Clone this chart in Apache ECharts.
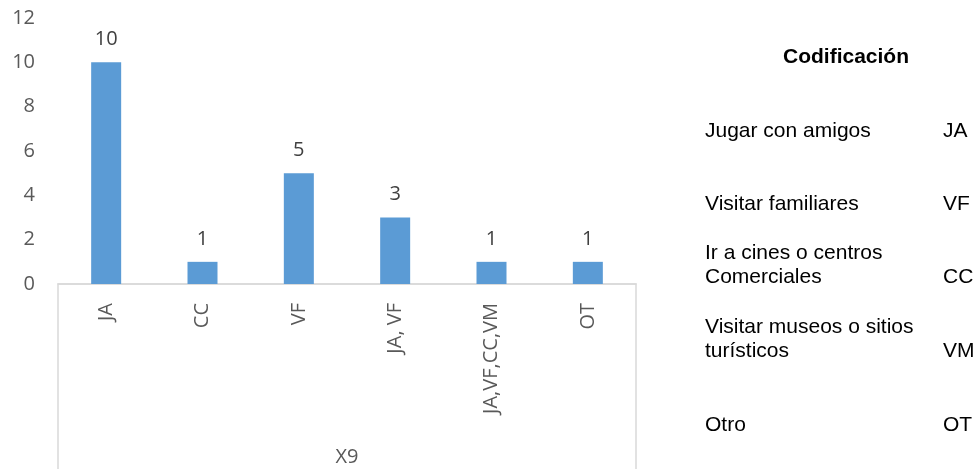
<!DOCTYPE html>
<html>
<head>
<meta charset="utf-8">
<script src="https://cdn.jsdelivr.net/npm/echarts@6/dist/echarts.min.js"></script>
<style>
  html, body { margin: 0; padding: 0; background: #fff; }
  #chart { width: 980px; height: 469px; }
</style>
</head>
<body>
<div id="chart"></div>
<script>
// datos
const categories = ['JA', 'CC', 'VF', 'JA, VF', 'JA,VF,CC,VM', 'OT']
const values = [10, 1, 5, 3, 1, 1]
const axisName = 'X9'

// tabla de codificacion
const tableTitle = 'Codificación'
const codeLabels = ['Jugar con amigos', 'Visitar familiares', 'Ir a cines o centros\nComerciales', 'Visitar museos o sitios\nturísticos', 'Otro']
const codes = ['JA', 'VF', 'CC', 'VM', 'OT']
const rowY = [131, 204, 277, 351, 425]

const gridLeft = 58
const gridRight = 344
const gridTop = 18
const gridBottom = 185
const W = 980
const H = 469
const tableFont = '21px "Liberation Sans", Arial, sans-serif'

const chart = echarts.init(document.getElementById('chart'))

const graphics = [
  // caja del eje de categorias
  {
    type: 'polyline',
    shape: { points: [[gridLeft, H], [gridLeft, H - gridBottom], [W - gridRight, H - gridBottom], [W - gridRight, H]] },
    style: { stroke: '#D9D9D9', lineWidth: 1.5, fill: null }
  },
  {
    type: 'text',
    x: 846,
    y: 57,
    style: { text: tableTitle, font: 'bold 21px "Liberation Sans", Arial, sans-serif', fill: '#000', textAlign: 'center', verticalAlign: 'middle' }
  }
]
codeLabels.forEach((t, i) => {
  graphics.push({
    type: 'text',
    x: 705,
    y: rowY[i] + 12,
    style: { text: t, font: tableFont, fill: '#000', lineHeight: 24, verticalAlign: 'bottom', textAlign: 'left' }
  })
  graphics.push({
    type: 'text',
    x: 943,
    y: rowY[i] + 12,
    style: { text: codes[i], font: tableFont, fill: '#000', lineHeight: 24, verticalAlign: 'bottom', textAlign: 'left' }
  })
})

chart.setOption({
  backgroundColor: '#fff',
  animation: false,
  textStyle: { fontFamily: '"Open Sans", sans-serif' },
  grid: { left: gridLeft, right: gridRight, top: gridTop, bottom: gridBottom, outerBoundsMode: 'none', containLabel: false },
  xAxis: {
    type: 'category',
    data: categories,
    name: axisName,
    nameLocation: 'middle',
    nameGap: 163,
    nameTextStyle: { color: '#595959', fontSize: 20 },
    axisLine: { lineStyle: { color: '#D9D9D9', width: 1.5 } },
    axisTick: { show: false },
    axisLabel: { rotate: 90, margin: 19, color: '#595959', fontSize: 20 }
  },
  yAxis: {
    type: 'value',
    min: 0,
    max: 12,
    interval: 2,
    axisLine: { show: false },
    axisTick: { show: false },
    splitLine: { show: false },
    axisLabel: { color: '#595959', fontSize: 20, margin: 23 }
  },
  series: [{
    type: 'bar',
    data: values,
    barWidth: 30,
    itemStyle: { color: '#5B9BD5' },
    label: { show: true, position: 'top', distance: 13, color: '#404040', fontSize: 20 }
  }],
  graphic: graphics
})
</script>
</body>
</html>
